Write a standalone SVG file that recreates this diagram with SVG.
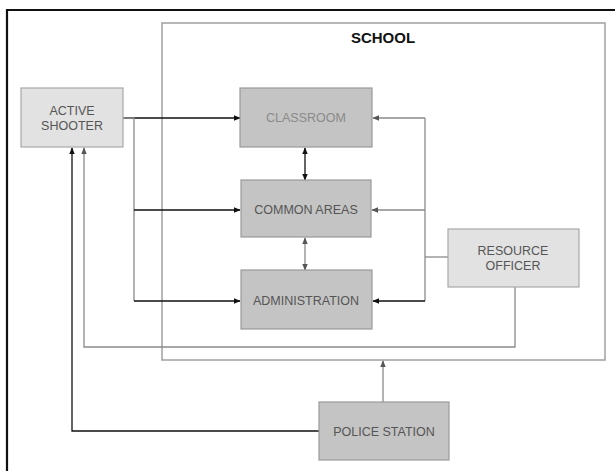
<svg xmlns="http://www.w3.org/2000/svg" width="615" height="471" viewBox="0 0 615 471">
<style>
.t{font-family:"Liberation Sans",Arial,sans-serif;font-size:12.5px;fill:#555;text-anchor:middle}
.dark{fill:#c4c4c4;stroke:#9a9a9a;stroke-width:1.2}
.light{fill:#e2e2e2;stroke:#a8a8a8;stroke-width:1.2}
.blk{fill:none;stroke:#111;stroke-width:1.3}
.gry{fill:none;stroke:#8a8a8a;stroke-width:1.3}
</style>
<defs>
<marker id="ab" viewBox="0 0 10 10" refX="9" refY="5" markerWidth="7" markerHeight="7" orient="auto-start-reverse" markerUnits="userSpaceOnUse"><path d="M0,1 L10,5 L0,9 z" fill="#111"/></marker>
<marker id="ag" viewBox="0 0 10 10" refX="9" refY="5" markerWidth="7" markerHeight="7" orient="auto-start-reverse" markerUnits="userSpaceOnUse"><path d="M0,1 L10,5 L0,9 z" fill="#555"/></marker>
</defs>
<rect width="615" height="471" fill="#fff"/>
<path d="M7,471 V10 H615" fill="none" stroke="#111" stroke-width="2.2"/>
<g id="school">
<rect x="162" y="23" width="443" height="337" fill="none" stroke="#a0a0a0" stroke-width="1.5"/>
<text x="383" y="43" style="font-family:'Liberation Sans',Arial,sans-serif;font-size:15px;font-weight:bold;fill:#111;text-anchor:middle">SCHOOL</text>
</g>
<g id="connectors">
<path class="blk" d="M123,118 H240" marker-end="url(#ab)"/>
<path class="gry" d="M123,118 H134 V301"/>
<path class="blk" d="M134,210 H240" marker-end="url(#ab)"/>
<path class="blk" d="M134,301 H240" marker-end="url(#ab)"/>
<path class="blk" d="M305,148 V180" marker-start="url(#ab)" marker-end="url(#ab)"/>
<path class="gry" d="M305,238 V270" marker-start="url(#ag)" marker-end="url(#ag)"/>
<path class="gry" d="M448,257 H425"/>
<path class="gry" d="M425,118 V301"/>
<path class="gry" d="M425,118 H373" marker-end="url(#ag)"/>
<path class="gry" d="M425,210 H372" marker-end="url(#ag)"/>
<path class="blk" d="M425,301 H373" marker-end="url(#ab)"/>
<path class="gry" d="M515,287 V347 H84 V148" marker-end="url(#ag)"/>
<path class="gry" d="M383,402 V361" marker-end="url(#ag)"/>
<path class="blk" d="M319,431 H72 V148" marker-end="url(#ab)"/>
</g>
<g id="active-shooter">
<rect class="light" x="21" y="88" width="102" height="59"/>
<text class="t" x="72" y="115">ACTIVE</text>
<text class="t" x="72" y="130">SHOOTER</text>
</g>
<g id="classroom">
<rect class="dark" x="240" y="88" width="132" height="59"/>
<text class="t" x="306" y="122" style="fill:#8a8a8a">CLASSROOM</text>
</g>
<g id="common-areas">
<rect class="dark" x="241" y="180" width="130" height="57"/>
<text class="t" x="306" y="214">COMMON AREAS</text>
</g>
<g id="administration">
<rect class="dark" x="241" y="270" width="131" height="59"/>
<text class="t" x="306" y="305">ADMINISTRATION</text>
</g>
<g id="resource-officer">
<rect class="light" x="448" y="229" width="131" height="58"/>
<text class="t" x="513" y="255">RESOURCE</text>
<text class="t" x="513" y="270">OFFICER</text>
</g>
<g id="police-station">
<rect class="dark" x="319" y="402" width="130" height="58"/>
<text class="t" x="384" y="436">POLICE STATION</text>
</g>
</svg>
